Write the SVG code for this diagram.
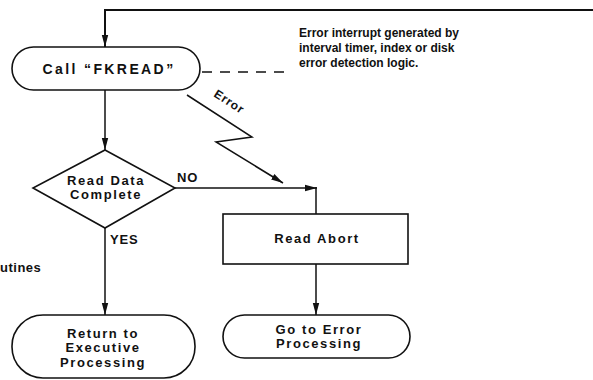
<svg xmlns="http://www.w3.org/2000/svg" width="593" height="380" viewBox="0 0 593 380">
<style>
.shape{fill:none;stroke:#111;stroke-width:1.6}
.line{fill:none;stroke:#111;stroke-width:1.5}
.node{font-family:"Liberation Sans",Arial,sans-serif;font-weight:bold;font-size:13px;letter-spacing:1.6px;fill:#111;text-anchor:middle}
.lbl{font-family:"Liberation Sans",Arial,sans-serif;font-weight:bold;font-size:13px;letter-spacing:0.8px;fill:#111}
.note{font-family:"Liberation Sans",Arial,sans-serif;font-weight:bold;font-size:12px;fill:#111}
</style>
<defs>
<marker id="ah" markerWidth="12" markerHeight="8" refX="12" refY="4" orient="auto" markerUnits="userSpaceOnUse">
<path d="M0,0.8 L12,4 L0,7.2 Z" fill="#111"/>
</marker>
</defs>
<g id="connectors">
<path class="line" d="M593,10 L105,10 L105,47" style="stroke-width:2" marker-end="url(#ah)"/>
<path class="line" d="M105,90 L105,150" marker-end="url(#ah)"/>
<path class="line" d="M175,188 L317,188" marker-end="url(#ah)"/>
<path class="line" d="M316,187 L316,214"/>
<path class="line" d="M105,228 L105,315" marker-end="url(#ah)"/>
<path class="line" d="M316,264 L316,315" marker-end="url(#ah)"/>
<path class="line" d="M187,95 L252,137 L216,142 L283,183" marker-end="url(#ah)"/>
<path class="line" d="M202,72 L292,72" stroke-dasharray="10,8"/>
<text class="lbl" transform="translate(213,96) rotate(33)" style="font-size:12px">Error</text>
<text class="lbl" x="177" y="182">NO</text>
<text class="lbl" x="110" y="244">YES</text>
</g>
<g id="call">
<rect class="shape" x="12" y="47" width="188" height="43" rx="21.5"/>
<text class="node" x="109" y="74" style="font-size:14px;letter-spacing:2.4px">Call “FKREAD”</text>
</g>
<g id="note">
<text class="note" x="299" y="37">Error interrupt generated by</text>
<text class="note" x="299" y="52">interval timer, index or disk</text>
<text class="note" x="299" y="67">error detection logic.</text>
</g>
<g id="decision">
<path class="shape" d="M105,150 L175,188 L105,228 L33,188 Z"/>
<text class="node" x="106" y="185">Read Data</text>
<text class="node" x="106" y="199">Complete</text>
</g>
<g id="abort">
<rect class="shape" x="223" y="214" width="185" height="50"/>
<text class="node" x="317" y="243">Read Abort</text>
</g>
<g id="goerror">
<rect class="shape" x="223" y="315" width="187" height="43" rx="21.5"/>
<text class="node" x="319" y="334">Go to Error</text>
<text class="node" x="319" y="348">Processing</text>
</g>
<g id="return">
<rect class="shape" x="12" y="315" width="183" height="63" rx="31"/>
<text class="node" x="103" y="338">Return to</text>
<text class="node" x="103" y="352">Executive</text>
<text class="node" x="103" y="367">Processing</text>
</g>
<text class="lbl" x="0" y="272" style="letter-spacing:0.5px">utines</text>
</svg>
